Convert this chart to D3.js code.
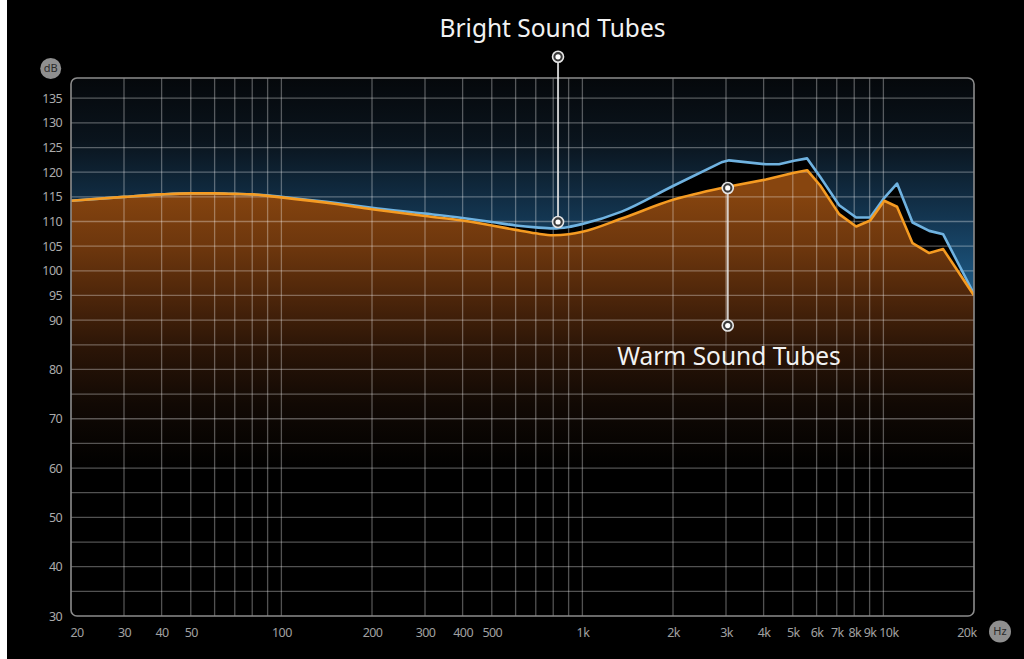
<!DOCTYPE html>
<html><head><meta charset="utf-8">
<script src="https://cdn.jsdelivr.net/npm/d3@7/dist/d3.min.js"></script>
<style>
html,body{margin:0;padding:0;background:#000;overflow:hidden}
svg{display:block}
</style></head>
<body>
<svg id="chart" width="1024" height="659"></svg>
<script>
// ---- data ----
const warmFreq = [20,30,40,50,60,70,80,90,100,150,200,300,400,500,600,700,800,900,1000,1350,2000,2900,3070,4070,5050,5580,6170,7130,8120,9040,10070,11100,12500,14200,15800,20000];
const warmDb   = [114.2,115.0,115.5,115.7,115.7,115.6,115.5,115.2,114.9,113.6,112.5,111.1,110.2,109.2,108.3,107.6,107.2,107.4,107.9,110.6,114.4,116.8,117.1,118.5,119.9,120.4,117.3,111.5,109.0,110.2,114.2,113.0,105.6,103.6,104.4,95.0];
const brightFreq = [20,30,40,50,60,70,80,90,100,150,200,300,400,500,600,700,800,900,1000,1350,2000,2900,3070,4070,4500,5050,5580,6170,7130,8120,9040,10070,11100,12500,14200,15800,20000];
const brightDb   = [114.2,115.0,115.5,115.7,115.7,115.6,115.5,115.3,115.0,113.8,112.8,111.6,110.7,109.9,109.2,108.8,108.6,108.9,109.5,112.0,117.2,122.0,122.4,121.6,121.6,122.3,122.8,119.0,113.3,110.8,110.8,114.8,117.7,109.8,108.1,107.4,95.3];
const yTickValues = [30,40,50,60,70,80,90,95,100,105,110,115,120,125,130,135];
const yGridValues = [35,40,45,50,55,60,65,70,75,80,85,90,95,100,105,110,115,120,125,130,135];
const xTickValues = [20,30,40,50,100,200,300,400,500,1000,2000,3000,4000,5000,6000,7000,8000,9000,10000,20000];
const xTickLabels = ["20","30","40","50","100","200","300","400","500","1k","2k","3k","4k","5k","6k","7k","8k","9k","10k","20k"];
const xGridValues = [30,40,50,60,70,80,90,100,200,300,400,500,600,700,800,900,1000,2000,3000,4000,5000,6000,7000,8000,9000,10000];
const seriesNames = ["Bright Sound Tubes","Warm Sound Tubes"];
// annotations: [freq, dbTop, dbBottom]
const brightNote = [830, 143.4, 109.9];
const warmNote   = [3040, 116.8, 88.9];
const smoothUntil = 2900; // smooth curve below this frequency, straight segments above

// ---- layout ----
const svg = d3.select("#chart");
const L = 71, R = 974, T = 78, B = 616;
const x = d3.scaleLog().domain([20, 20000]).range([L, R]);
const y = d3.scaleLinear().domain([30, 139.1]).range([B, T]);

svg.append("rect").attr("x",0).attr("y",0).attr("width",1024).attr("height",659).attr("fill","#000");
svg.append("rect").attr("x",0).attr("y",0).attr("width",7).attr("height",659).attr("fill","#fff");

const defs = svg.append("defs");
const bg = defs.append("linearGradient").attr("id","bgGrad").attr("gradientUnits","userSpaceOnUse")
  .attr("x1",0).attr("y1",T).attr("x2",0).attr("y2",330);
[[0,"#05080b"],[0.25,"#0a141d"],[0.55,"#133550"],[0.85,"#1d5a86"],[1,"#216496"]].forEach(s=>bg.append("stop").attr("offset",s[0]).attr("stop-color",s[1]));
const og = defs.append("linearGradient").attr("id","orGrad").attr("gradientUnits","userSpaceOnUse")
  .attr("x1",0).attr("y1",190).attr("x2",0).attr("y2",520);
[[0,"#87450f"],[0.18,"#6c360d"],[0.33,"#4c250a"],[0.48,"#2b1507"],[0.65,"#110904"],[0.85,"#000000"],[1,"#000000"]].forEach(s=>og.append("stop").attr("offset",s[0]).attr("stop-color",s[1]));
defs.append("clipPath").attr("id","plotClip").append("rect")
  .attr("x",L).attr("y",T).attr("width",R-L).attr("height",B-T).attr("rx",6);

const plot = svg.append("g").attr("clip-path","url(#plotClip)");
plot.append("rect").attr("x",L).attr("y",T).attr("width",R-L).attr("height",B-T).attr("fill","url(#bgGrad)");

const bright = brightFreq.map((f,i)=>({f, v:brightDb[i]}));
const warm = warmFreq.map((f,i)=>({f, v:warmDb[i]}));
const smoothLine = d3.line().x(d=>x(d.f)).y(d=>y(d.v)).curve(d3.curveMonotoneX);
const straightLine = d3.line().x(d=>x(d.f)).y(d=>y(d.v)).curve(d3.curveLinear);
function topPath(pts){
  const a = pts.filter(d=>d.f<=smoothUntil);
  const b = pts.filter(d=>d.f>=smoothUntil);
  return smoothLine(a) + straightLine(b).replace(/^M/,"L");
}
function areaPath(pts){
  return topPath(pts) + `L${x(pts[pts.length-1].f)},${B}L${x(pts[0].f)},${B}Z`;
}

plot.append("path").attr("d",areaPath(bright)).attr("fill","#000");
plot.append("path").attr("d",areaPath(warm)).attr("fill","url(#orGrad)");

// grid
const grid = plot.append("g").attr("stroke","#fff").attr("stroke-opacity",0.32).attr("stroke-width",1.3);
grid.selectAll("line.h").data(yGridValues).join("line").attr("class","h")
  .attr("x1",L).attr("x2",R).attr("y1",d=>y(d)).attr("y2",d=>y(d));
grid.selectAll("line.v").data(xGridValues).join("line").attr("class","v")
  .attr("x1",d=>x(d)).attr("x2",d=>x(d)).attr("y1",T).attr("y2",B);

plot.append("path").attr("d",topPath(bright)).attr("fill","none").attr("stroke","#6fb2e0").attr("stroke-width",2.6).attr("stroke-linejoin","round");
plot.append("path").attr("d",topPath(warm)).attr("fill","none").attr("stroke","#f59b22").attr("stroke-width",2.6).attr("stroke-linejoin","round");

svg.append("rect").attr("x",L).attr("y",T).attr("width",R-L).attr("height",B-T).attr("rx",6)
  .attr("fill","none").attr("stroke","#8c8c8c").attr("stroke-width",1.6);

// axes
const tickFont = "'Noto Sans',sans-serif";
const yAxis = svg.append("g").attr("transform",`translate(62,0)`)
  .call(d3.axisLeft(y).tickValues(yTickValues).tickSize(0).tickPadding(0).tickFormat(d3.format("d")));
yAxis.select(".domain").remove();
yAxis.selectAll("text").attr("fill","#ababab").style("font-family",tickFont).style("font-size","12.5px").style("letter-spacing","-0.6px");

const xAxis = svg.append("g").attr("transform",`translate(0,${B})`)
  .call(d3.axisBottom(x).tickValues(xTickValues).tickSize(0).tickPadding(12).tickFormat((d,i)=>xTickLabels[i]));
xAxis.select(".domain").remove();
xAxis.selectAll("text").attr("fill","#a0a0a0").style("font-family",tickFont).style("font-size","12.5px").style("letter-spacing","-0.6px");
xAxis.selectAll(".tick").filter(d=>d===20).select("text").attr("text-anchor","start").attr("x",-1);
xAxis.selectAll(".tick").filter(d=>d===20000).select("text").attr("text-anchor","end").attr("x",2);
xAxis.selectAll(".tick").filter(d=>d===10000).select("text").attr("x",5);

// unit badges
function badge(cx, cy, r, label){
  svg.append("circle").attr("cx",cx).attr("cy",cy).attr("r",r).attr("fill","#8f8f8f");
  svg.append("text").attr("x",cx).attr("y",cy).attr("dy","0.36em").attr("text-anchor","middle")
    .attr("fill","#2b2b2b").style("font-family","'Noto Sans',sans-serif").style("font-size","11px").text(label);
}
badge(50.7, 68.5, 10.5, "dB");
badge(1000, 631.5, 11, "Hz");

// annotations
function note(n){
  const cx = x(n[0]);
  svg.append("line").attr("x1",cx).attr("x2",cx).attr("y1",y(n[1])).attr("y2",y(n[2]))
    .attr("stroke","#e8e8e8").attr("stroke-opacity",0.85).attr("stroke-width",2);
  [n[1],n[2]].forEach(v=>{
    svg.append("circle").attr("cx",cx).attr("cy",y(v)).attr("r",5.5).attr("fill","#3a3a3a").attr("stroke","#e6e6e6").attr("stroke-width",1.6);
    svg.append("circle").attr("cx",cx).attr("cy",y(v)).attr("r",2.6).attr("fill","#fff");
  });
}
note(brightNote);
note(warmNote);

const titleFont = "'Noto Sans',sans-serif";
svg.append("text").attr("x",552.5).attr("y",36.5).attr("text-anchor","middle").attr("fill","#f2f2f2")
  .style("font-family",titleFont).style("font-size","24.5px").text(seriesNames[0]);
svg.append("text").attr("x",729).attr("y",365).attr("text-anchor","middle").attr("fill","#f2f2f2")
  .style("font-family",titleFont).style("font-size","24.5px").text(seriesNames[1]);
</script>
</body></html>
